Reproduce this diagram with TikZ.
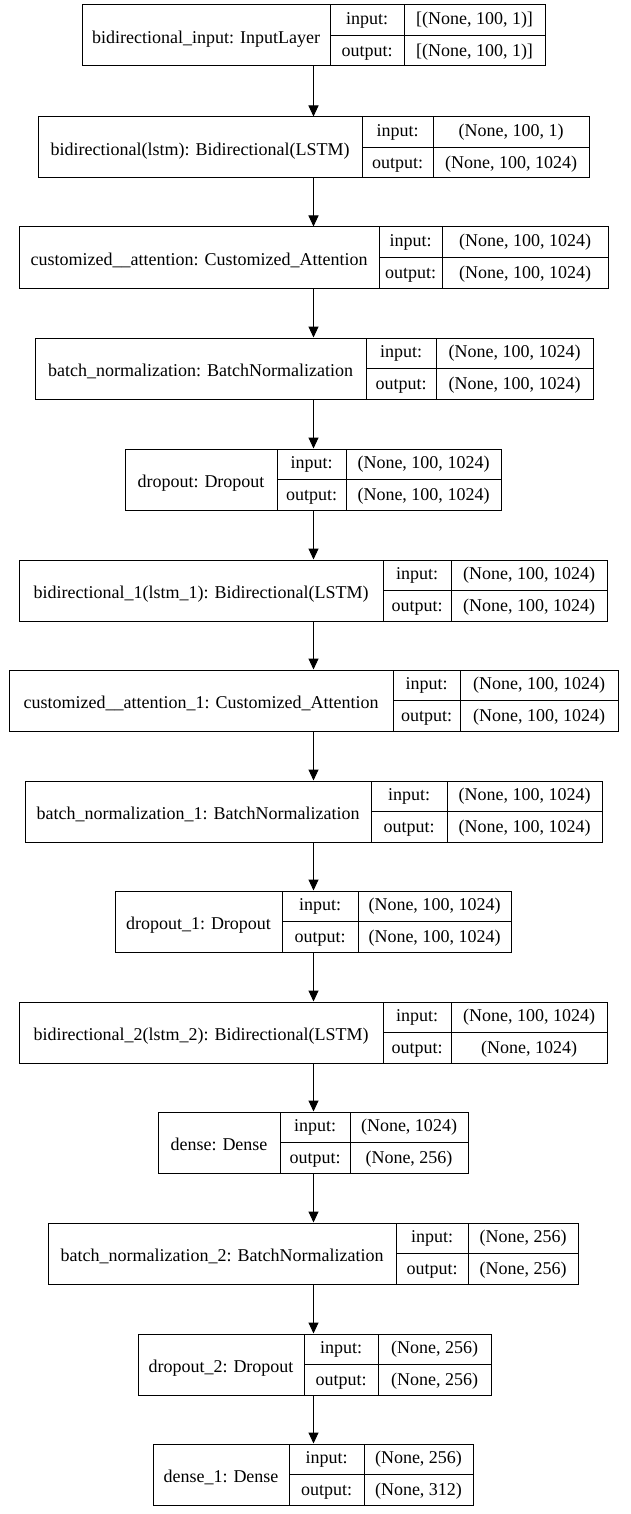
\documentclass[tikz,border=0pt]{standalone}
\usepackage{fontspec}
\setmainfont{Liberation Serif}
\usetikzlibrary{arrows.meta}
\tikzset{
  box/.style={draw, line width=1pt, rectangle, inner sep=0pt, minimum height=61pt},
  txt/.style={inner sep=0pt, anchor=base, font=\fontsize{18}{20}\selectfont},
  sep/.style={line width=1pt},
  flow/.style={line width=1pt, -{Triangle[width=10pt,length=11pt]}}
}
% #1 name, #2 left, #3 top, #4 right, #5 divider1, #6 divider2, #7 label, #8 input, #9 output
\newcommand\layerbox[9]{%
  \pgfmathsetmacro\cxx{(#2+#4)/2}%
  \pgfmathsetmacro\ww{#4-#2}%
  \node[box, minimum width=\ww pt] (#1) at (\cxx,#3+30.5) {};
  \draw[sep] (#5,#3) -- (#5,#3+61);
  \draw[sep] (#6,#3) -- (#6,#3+61);
  \draw[sep] (#5,#3+30.5) -- (#4,#3+30.5);
  \node[txt] (#1-lab) at ({(#2+#5)/2},#3+38.5) {#7};
  \node[txt] (#1-ik) at ({(#5+#6)/2},#3+19.5) {input:};
  \node[txt] (#1-ok) at ({(#5+#6)/2},#3+51.5) {output:};
  \node[txt] (#1-iv) at ({(#6+#4)/2},#3+19.5) {#8};
  \node[txt] (#1-ov) at ({(#6+#4)/2},#3+51.5) {#9};
}
\begin{document}
\begin{tikzpicture}[x=1pt,y=-1pt]
\useasboundingbox[fill=white] (0,0) rectangle (630,1514);
\layerbox{L1}{82}{5}{545}{330}{404}{bidirectional\_input: InputLayer}{[(None, 100, 1)]}{[(None, 100, 1)]}
\layerbox{L2}{38}{117}{589}{362}{433}{bidirectional(lstm): Bidirectional(LSTM)}{(None, 100, 1)}{(None, 100, 1024)}
\layerbox{L3}{19}{227}{608}{379}{442}{customized\_\_attention: Customized\_Attention}{(None, 100, 1024)}{(None, 100, 1024)}
\layerbox{L4}{35}{338}{593}{366}{436}{batch\_normalization: BatchNormalization}{(None, 100, 1024)}{(None, 100, 1024)}
\layerbox{L5}{125}{449}{501}{277}{346}{dropout: Dropout}{(None, 100, 1024)}{(None, 100, 1024)}
\layerbox{L6}{19}{560}{607}{383}{451}{bidirectional\_1(lstm\_1): Bidirectional(LSTM)}{(None, 100, 1024)}{(None, 100, 1024)}
\layerbox{L7}{9}{670}{618}{393}{460}{customized\_\_attention\_1: Customized\_Attention}{(None, 100, 1024)}{(None, 100, 1024)}
\layerbox{L8}{25}{781}{602}{371}{447}{batch\_normalization\_1: BatchNormalization}{(None, 100, 1024)}{(None, 100, 1024)}
\layerbox{L9}{115}{891}{511}{282}{358}{dropout\_1: Dropout}{(None, 100, 1024)}{(None, 100, 1024)}
\layerbox{L10}{19}{1002}{607}{383}{451}{bidirectional\_2(lstm\_2): Bidirectional(LSTM)}{(None, 100, 1024)}{(None, 1024)}
\layerbox{L11}{158}{1112}{468}{280}{350}{dense: Dense}{(None, 1024)}{(None, 256)}
\layerbox{L12}{48}{1223}{578}{396}{468}{batch\_normalization\_2: BatchNormalization}{(None, 256)}{(None, 256)}
\layerbox{L13}{138}{1334}{491}{304}{378}{dropout\_2: Dropout}{(None, 256)}{(None, 256)}
\layerbox{L14}{153}{1444}{473}{289}{364}{dense\_1: Dense}{(None, 256)}{(None, 312)}
\foreach \a/\b in {L1/L2,L2/L3,L3/L4,L4/L5,L5/L6,L6/L7,L7/L8,L8/L9,L9/L10,L10/L11,L11/L12,L12/L13,L13/L14}
  \draw[flow] (\a.south -| L1.center) -- (\b.north -| L1.center);
\end{tikzpicture}
\end{document}
